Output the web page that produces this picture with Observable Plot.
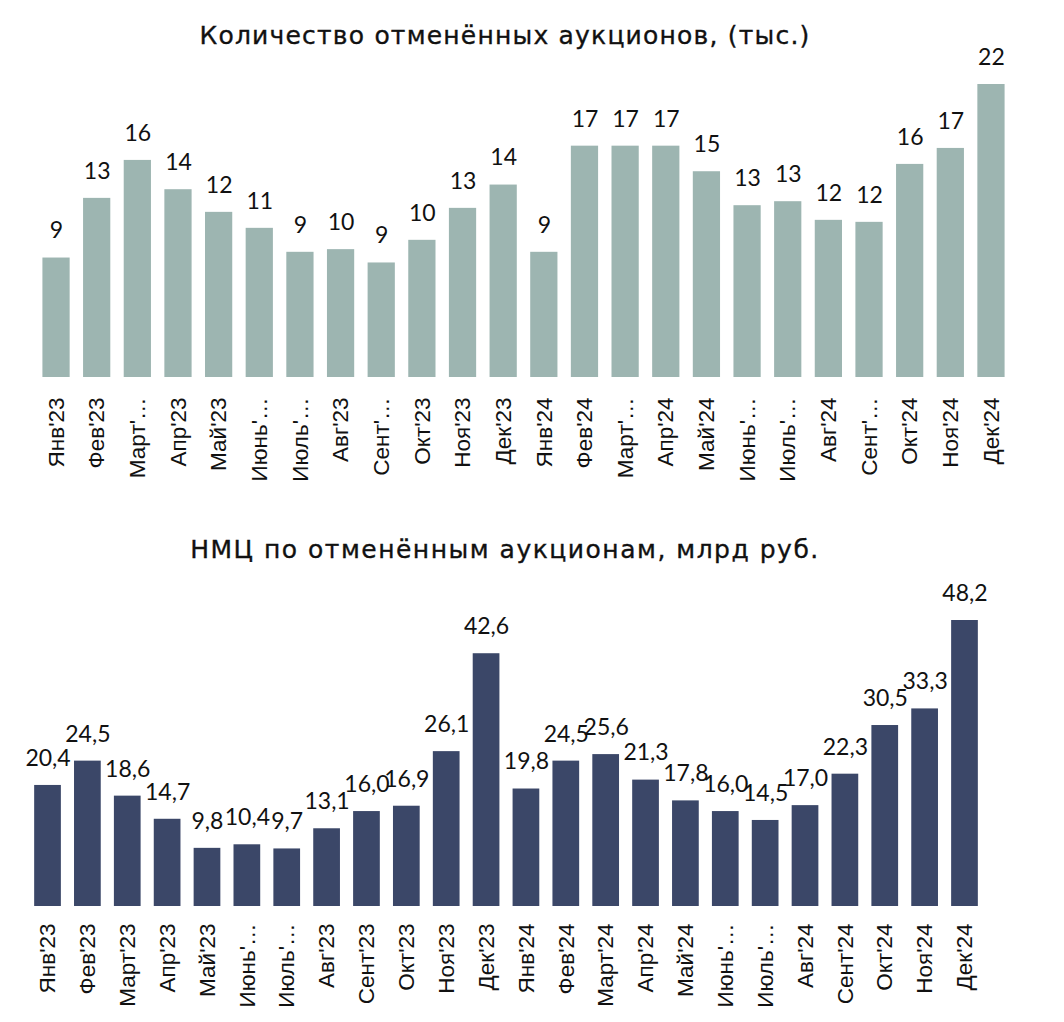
<!DOCTYPE html>
<html>
<head>
<meta charset="utf-8">
<script src="https://cdn.jsdelivr.net/npm/d3@7"></script>
<script src="https://cdn.jsdelivr.net/npm/@observablehq/plot@0.6"></script>
<style>
  html, body { margin: 0; padding: 0; background: #fff; }
  #wrap { position: relative; width: 1064px; height: 1022px; overflow: hidden; }
  .title { position: absolute; left: 0; width: 1010px; text-align: center; font-family: "DejaVu Sans", sans-serif; font-weight: normal; font-size: 25px; line-height: 30px; -webkit-text-stroke: 0.35px #111; color: #111; white-space: nowrap; }
  .chart { position: absolute; left: 0; }
</style>
</head>
<body>
<div id="wrap">
  <div class="title" id="t1" style="top:21px; letter-spacing: 1.2px;">Количество отменённых аукционов, (тыс.)</div>
  <div class="chart" id="c1" style="top:40px;"></div>
  <div class="title" id="t2" style="top:535px; letter-spacing: 1.5px;">НМЦ по отменённым аукционам, млрд руб.</div>
  <div class="chart" id="c2" style="top:560px;"></div>
</div>
<script>
const periods = ["2023-01","2023-02","2023-03","2023-04","2023-05","2023-06","2023-07","2023-08","2023-09","2023-10","2023-11","2023-12",
                 "2024-01","2024-02","2024-03","2024-04","2024-05","2024-06","2024-07","2024-08","2024-09","2024-10","2024-11","2024-12"];
const labelsTop = ["Янв'23","Фев'23","Март'…","Апр'23","Май'23","Июнь'…","Июль'…","Авг'23","Сент'…","Окт'23","Ноя'23","Дек'23",
                   "Янв'24","Фев'24","Март'…","Апр'24","Май'24","Июнь'…","Июль'…","Авг'24","Сент'…","Окт'24","Ноя'24","Дек'24"];
const labelsBottom = ["Янв'23","Фев'23","Март'23","Апр'23","Май'23","Июнь'…","Июль'…","Авг'23","Сент'23","Окт'23","Ноя'23","Дек'23",
                      "Янв'24","Фев'24","Март'24","Апр'24","Май'24","Июнь'…","Июль'…","Авг'24","Сент'24","Окт'24","Ноя'24","Дек'24"];
// thousands of cancelled auctions (labels are rounded)
const countValues = [8.97,13.45,16.3,14.1,12.4,11.2,9.4,9.6,8.6,10.3,12.7,14.45,
                     9.4,17.37,17.37,17.37,15.45,12.9,13.2,11.8,11.65,16.0,17.2,22.0];
// НМЦ, bn rub
const nmcValues = [20.4,24.5,18.6,14.7,9.8,10.4,9.7,13.1,16.0,16.9,26.1,42.6,
                   19.8,24.5,25.6,21.3,17.8,16.0,14.5,17.0,22.3,30.5,33.3,48.2];

const topData = periods.map((p, i) => ({p, v: countValues[i]}));
const botData = periods.map((p, i) => ({p, v: nmcValues[i]}));
const fmtTop = d3.format(".0f");
const fmtBot = v => v.toFixed(1).replace(".", ",");

const valueFont = "Lato, 'Noto Sans', sans-serif";
const tickFont = "'Liberation Sans', Arial, sans-serif";

function barChart({data, labels, color, yMax, height, mt, mb, ml, mr, tickPad, fmt}) {
  const lab = new Map(periods.map((p, i) => [p, labels[i]]));
  return Plot.plot({
    width: 1064,
    height,
    marginTop: mt,
    marginBottom: mb,
    marginLeft: ml,
    marginRight: mr,
    style: {background: "transparent", fontFamily: tickFont, fontSize: "22px", color: "#111", overflow: "visible"},
    x: {domain: periods, padding: 0.33, round: false, label: null},
    y: {domain: [0, yMax], axis: null},
    marks: [
      Plot.barY(data, {x: "p", y: "v", fill: color}),
      Plot.text(data, {x: "p", y: "v", text: d => fmt(d.v), dy: -27, fill: "#111",
                       fontSize: 23, fontFamily: valueFont, lineAnchor: "middle"}),
      Plot.axisX({tickSize: 0, tickPadding: tickPad, tickRotate: -90, tickFormat: p => lab.get(p),
                  fontSize: 22.5, fontFamily: tickFont, fill: "#111", label: null})
    ]
  });
}

document.getElementById("c1").appendChild(barChart({
  data: topData, labels: labelsTop, color: "#9db5b1", yMax: 22.0,
  height: 440, mt: 44, mb: 103, ml: 29, mr: 46, tickPad: 20, fmt: fmtTop
}));
document.getElementById("c2").appendChild(barChart({
  data: botData, labels: labelsBottom, color: "#3b4768", yMax: 48.2,
  height: 462, mt: 60, mb: 116, ml: 21, mr: 73, tickPad: 17, fmt: fmtBot
}));
</script>
</body>
</html>
